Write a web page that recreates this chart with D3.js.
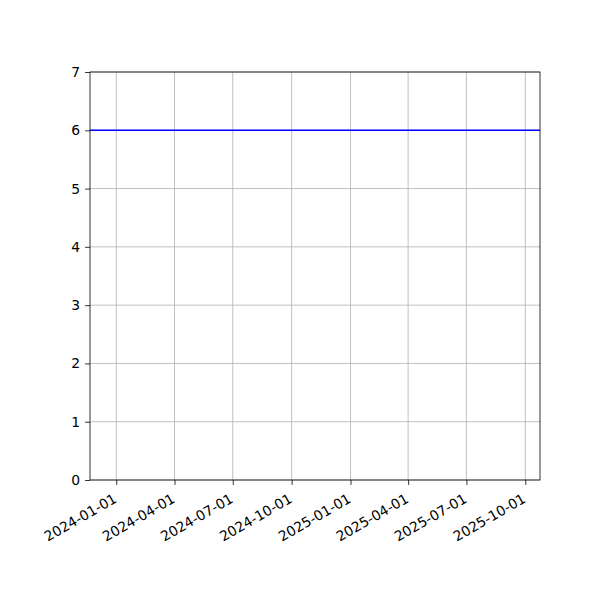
<!DOCTYPE html>
<html>
<head>
<meta charset="utf-8">
<script src="https://cdn.jsdelivr.net/npm/d3@7"></script>
<style>
  body { margin: 0; background: #fff; }
  text { font-family: "DejaVu Sans", sans-serif; }
</style>
</head>
<body>
<div id="chart"></div>
<script>
const xStart = "2023-11-21";
const xEnd = "2025-10-24";
const xTicks = ["2024-01-01", "2024-04-01", "2024-07-01", "2024-10-01",
                "2025-01-01", "2025-04-01", "2025-07-01", "2025-10-01"];
const yTicks = [0, 1, 2, 3, 4, 5, 6, 7];
const lineValue = 6;

const margin = { top: 72, right: 60, bottom: 120, left: 90 };
const W = 600, H = 600;
const width = W - margin.left - margin.right;
const height = H - margin.top - margin.bottom;

const parse = d3.utcParse("%Y-%m-%d");
const fmt = d3.utcFormat("%Y-%m-%d");

const svg = d3.select("#chart").append("svg")
    .attr("width", W)
    .attr("height", H);

const g = svg.append("g")
    .attr("transform", `translate(${margin.left},${margin.top})`);

const x = d3.scaleUtc()
    .domain([parse(xStart), parse(xEnd)])
    .range([0, width]);

const y = d3.scaleLinear()
    .domain([0, 7])
    .range([height, 0]);

// grid
g.append("g").selectAll("line")
    .data(xTicks.map(parse))
    .enter().append("line")
    .attr("x1", d => x(d)).attr("x2", d => x(d))
    .attr("y1", 0).attr("y2", height)
    .attr("stroke", "#b0b0b0").attr("stroke-width", 0.8);

g.append("g").selectAll("line")
    .data(yTicks)
    .enter().append("line")
    .attr("x1", 0).attr("x2", width)
    .attr("y1", d => y(d)).attr("y2", d => y(d))
    .attr("stroke", "#b0b0b0").attr("stroke-width", 0.8);

// the line
g.append("path")
    .datum(x.domain())
    .attr("fill", "none")
    .attr("stroke", "#0000ff")
    .attr("stroke-width", 1.5)
    .attr("d", d3.line().x(d => x(d)).y(() => y(lineValue)));

// axes
const xAxis = g.append("g")
    .attr("transform", `translate(0,${height})`)
    .call(d3.axisBottom(x).tickValues(xTicks.map(parse)).tickFormat(fmt).tickSize(4.9));
xAxis.select(".domain").remove();
xAxis.selectAll("line").attr("stroke", "#000").attr("stroke-width", 0.8);
xAxis.selectAll("text")
    .attr("font-family", "DejaVu Sans")
    .attr("font-size", 13.9)
    .attr("fill", "#000")
    .attr("text-anchor", "end")
    .attr("dy", null)
    .attr("y", 0)
    .attr("x", 0)
    .attr("transform", "translate(1,21.5) rotate(-30)");

const yAxis = g.append("g")
    .call(d3.axisLeft(y).tickValues(yTicks).tickFormat(d3.format("d")).tickSize(4.9).tickPadding(4.9));
yAxis.select(".domain").remove();
yAxis.selectAll("line").attr("stroke", "#000").attr("stroke-width", 0.8);
yAxis.selectAll("text")
    .attr("font-family", "DejaVu Sans")
    .attr("font-size", 13.9)
    .attr("fill", "#000");

// frame
g.append("rect")
    .attr("width", width).attr("height", height)
    .attr("fill", "none")
    .attr("stroke", "#000").attr("stroke-width", 0.8);
</script>
</body>
</html>
